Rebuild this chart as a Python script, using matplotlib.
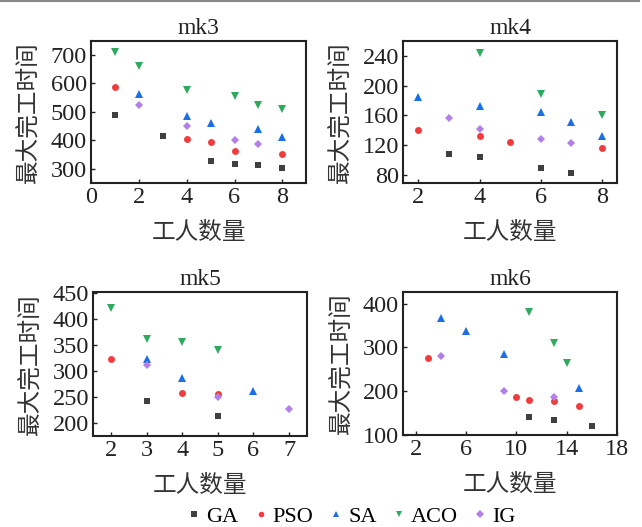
import numpy as np
import matplotlib
matplotlib.use("Agg")
import matplotlib.pyplot as plt
from matplotlib.lines import Line2D

plt.rcParams['font.family'] = ['Liberation Serif', 'Noto Sans CJK SC']
plt.rcParams['mathtext.fontset'] = 'stix'

algos = ["GA", "PSO", "SA", "ACO", "IG"]
colors = ["#404040", "#f03c3c", "#1a6fe6", "#2eaa5e", "#b27fe8"]
markers = ["s", "o", "^", "v", "D"]
msizes = [4.5, 5, 5.5, 5.5, 4.5]

# mk3
mk3_x = {"GA": [1, 3, 5, 6, 7, 8], "PSO": [1, 4, 5, 6, 8], "SA": [2, 4, 5, 7, 8],
         "ACO": [1, 2, 4, 6, 7, 8], "IG": [2, 4, 6, 7]}
mk3_y = {"GA": [489, 413, 327, 315, 313, 301], "PSO": [588, 403, 392, 361, 350],
         "SA": [562, 485, 459, 441, 410], "ACO": [710, 661, 575, 557, 523, 509],
         "IG": [523, 449, 402, 388]}
# mk4
mk4_x = {"GA": [3, 4, 6, 7], "PSO": [2, 4, 5, 8], "SA": [2, 4, 6, 7, 8],
         "ACO": [4, 6, 8], "IG": [3, 4, 6, 7]}
mk4_y = {"GA": [109, 104, 90, 83], "PSO": [141, 133, 124, 116],
         "SA": [184, 172, 165, 151, 133], "ACO": [243, 189, 161],
         "IG": [156, 142, 128, 123]}
# mk5
mk5_x = {"GA": [3, 5], "PSO": [2, 4, 5], "SA": [3, 4, 6],
         "ACO": [2, 3, 4, 5], "IG": [3, 5, 7]}
mk5_y = {"GA": [243, 213], "PSO": [322, 258, 256], "SA": [322, 287, 262],
         "ACO": [422, 361, 355, 341], "IG": [311, 249, 226]}
# mk6
mk6_x = {"GA": [11, 13, 16], "PSO": [3, 10, 11, 13, 15], "SA": [4, 6, 9, 15],
         "ACO": [11, 13, 14], "IG": [4, 9, 13]}
mk6_y = {"GA": [141, 133, 120], "PSO": [276, 186, 179, 177, 167],
         "SA": [367, 337, 285, 208], "ACO": [382, 309, 264],
         "IG": [281, 200, 186]}

panels = [
    ("mk3", mk3_x, mk3_y, [0.142, 0.653, 0.335, 0.270], (0, 9), [0, 2, 4, 6, 8], (250, 750), [300, 400, 500, 600, 700]),
    ("mk4", mk4_x, mk4_y, [0.628, 0.653, 0.333, 0.270], (1.5, 8.5), [2, 4, 6, 8], (70, 260), [80, 120, 160, 200, 240]),
    ("mk5", mk5_x, mk5_y, [0.145, 0.173, 0.333, 0.273], (1.5, 7.5), [2, 3, 4, 5, 6, 7], (175, 452), [200, 250, 300, 350, 400, 450]),
    ("mk6", mk6_x, mk6_y, [0.628, 0.175, 0.333, 0.271], (1, 18), [2, 6, 10, 14, 18], (100, 427), [100, 200, 300, 400]),
]

fig = plt.figure(figsize=(6.42, 5.27), dpi=100)

for title, xs, ys, rect, xl, xt, yl, yt in panels:
    ax = fig.add_axes(rect)
    for a, c, m, s in zip(algos, colors, markers, msizes):
        ax.plot(xs[a], ys[a], linestyle="none", marker=m, color=c, markersize=s,
                markeredgewidth=0, label=a)
    ax.set_xlim(*xl)
    ax.set_ylim(*yl)
    ax.set_xticks(xt)
    ax.set_yticks(yt)
    ax.tick_params(direction="in", labelsize=17.5, length=3, width=1, colors="#222222", pad=3)
    for sp in ax.spines.values():
        sp.set_linewidth(1.5)
        sp.set_color("#222222")
    ax.set_title(title, fontsize=17, color="#222222", pad=5)
    ax.set_xlabel("工人数量", fontsize=17, color="#333333",
                  family=['Noto Sans CJK SC'], fontweight="light", labelpad=9)
    ax.set_ylabel("最大完工时间", fontsize=17, color="#333333",
                  family=['Noto Sans CJK SC'], fontweight="light", labelpad=7)

handles = [Line2D([], [], linestyle="none", marker=m, color=c, markersize=4,
                  markeredgewidth=0) for c, m in zip(colors, markers)]
fig.legend(handles, algos, loc="center", bbox_to_anchor=(0.545, 0.019), ncol=5,
           frameon=False, fontsize=16, handletextpad=0.1, columnspacing=0.55,
           handlelength=0.9)

fig.add_artist(Line2D([0, 0.995], [0.999, 0.999], color="#888888", linewidth=1.5))

fig.savefig("out.png", dpi=100)
